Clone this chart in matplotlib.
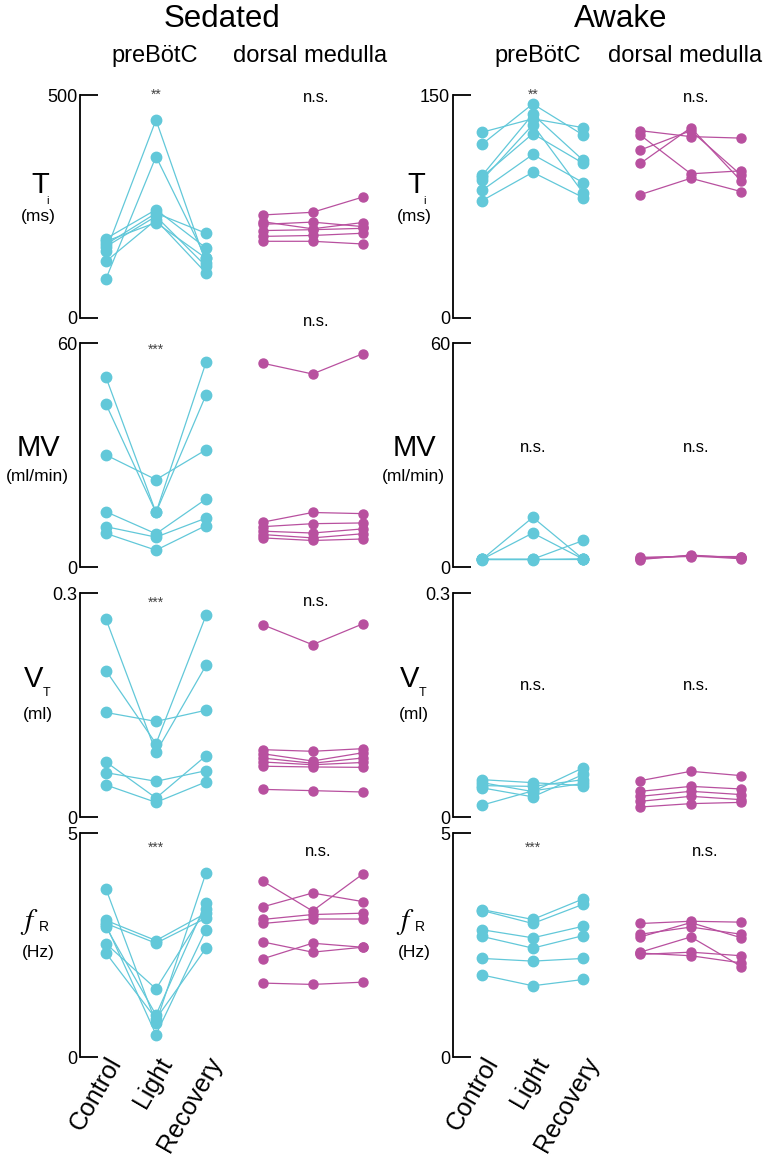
import matplotlib
matplotlib.use("Agg")
import matplotlib.pyplot as plt
import numpy as np

plt.rcParams['font.family'] = ['Liberation Sans', 'DejaVu Sans']

conditions = ["Control", "Light", "Recovery"]
states = ["Sedated", "Awake"]
regions = ["preBötC", "dorsal medulla"]
y_max_sed = [500, 60, 0.3, 5]
y_max_awk = [150, 60, 0.3, 5]
y_max_labels_sed = ["500", "60", "0.3", "5"]
y_max_labels_awk = ["150", "60", "0.3", "5"]

# ---------------- Sedated ----------------
sed_ti_pre = [[150, 444, 123], [88, 362, 134], [178, 243, 157], [165, 235, 190],
              [160, 228, 116], [127, 220, 101], [172, 214, 134]]
sed_ti_dm = [[231, 237, 271], [216, 200, 214], [210, 215, 205], [196, 198, 201],
             [183, 185, 190], [172, 172, 166]]
sed_mv_pre = [[50.8, 14.6, 46.1], [43.6, 14.6, 54.8], [30.0, 23.4, 31.4],
              [14.8, 8.9, 18.2], [10.8, 8.0, 13.1], [9.0, 4.5, 11.1]]
sed_mv_dm = [[54.6, 51.7, 57.1], [12.0, 14.6, 14.3], [10.8, 11.6, 11.8],
             [9.6, 9.1, 10.2], [8.7, 7.8, 8.9], [7.8, 7.1, 7.5]]
sed_vt_pre = [[0.265, 0.0866, 0.203], [0.196, 0.0982, 0.270], [0.140, 0.128, 0.143],
              [0.0737, 0.0254, 0.082], [0.0594, 0.0478, 0.062], [0.0429, 0.0196, 0.047]]
sed_vt_dm = [[0.2576, 0.2308, 0.2585], [0.0902, 0.088, 0.0915], [0.0848, 0.075, 0.086],
             [0.079, 0.072, 0.079], [0.0737, 0.070, 0.073], [0.068, 0.067, 0.0665],
             [0.037, 0.0353, 0.0335]]
sed_fr_pre = [[3.75, 0.76, 4.11], [3.05, 2.60, 3.21], [2.98, 2.54, 3.10],
              [2.90, 0.94, 3.44], [2.53, 1.52, 3.30], [2.32, 0.85, 2.43],
              [2.95, 0.50, 2.84]]
sed_fr_dm = [[3.93, 3.26, 4.08], [3.35, 3.66, 3.47], [3.07, 3.18, 3.21],
             [2.98, 3.08, 3.08], [2.57, 2.34, 2.45], [2.19, 2.54, 2.45],
             [1.65, 1.62, 1.67]]

# ---------------- Awake ----------------
awk_ti_pre = [[125, 134, 128], [117, 144, 123], [96, 137, 106], [93, 130, 84],
              [95, 124, 104], [86, 110, 91], [79, 98, 81]]
awk_ti_dm = [[126, 122, 121], [123, 97, 99], [113, 126, 96], [104, 128, 92],
             [83, 94, 85]]
awk_mv_pre = [[2.1, 13.3, 2.1], [2.1, 9.1, 2.1], [2.1, 2.1, 7.1],
              [2.1, 2.1, 2.1], [2.0, 2.0, 2.2]]
awk_mv_dm = [[2.4, 3.0, 2.6], [2.0, 3.2, 2.4], [2.6, 2.8, 2.8], [2.2, 3.0, 2.2]]
awk_vt_pre = [[0.050, 0.046, 0.042], [0.046, 0.034, 0.066], [0.042, 0.041, 0.050],
              [0.039, 0.027, 0.057], [0.016, 0.035, 0.045]]
awk_vt_dm = [[0.0487, 0.0612, 0.0554], [0.0344, 0.041, 0.0375], [0.0277, 0.0344, 0.030],
             [0.021, 0.0277, 0.0232], [0.0134, 0.0179, 0.0196]]
awk_fr_pre = [[3.29, 3.07, 3.53], [3.27, 2.98, 3.41], [2.84, 2.66, 2.92],
              [2.69, 2.43, 2.71], [2.20, 2.14, 2.20], [1.83, 1.59, 1.73]]
awk_fr_dm = [[2.98, 3.03, 3.01], [2.74, 2.90, 2.74], [2.68, 3.00, 2.66],
             [2.34, 2.68, 2.02], [2.29, 2.34, 2.26], [2.32, 2.26, 2.10]]

sig_sed_pre = ["**", "***", "***", "***"]
sig_sed_dm = ["n.s.", "n.s.", "n.s.", "n.s."]
sig_awk_pre = ["**", "n.s.", "n.s.", "***"]
sig_awk_dm = ["n.s.", "n.s.", "n.s.", "n.s."]

data = {
    (0, 0): (sed_ti_pre, sed_ti_dm), (1, 0): (sed_mv_pre, sed_mv_dm),
    (2, 0): (sed_vt_pre, sed_vt_dm), (3, 0): (sed_fr_pre, sed_fr_dm),
    (0, 1): (awk_ti_pre, awk_ti_dm), (1, 1): (awk_mv_pre, awk_mv_dm),
    (2, 1): (awk_vt_pre, awk_vt_dm), (3, 1): (awk_fr_pre, awk_fr_dm),
}
y_max = [y_max_sed, y_max_awk]
y_max_labels = [y_max_labels_sed, y_max_labels_awk]

CYAN = "#62C8D9"
MAG = "#B8509F"

W, H = 766, 1160
fig = plt.figure(figsize=(W / 100, H / 100), dpi=100)

def fx(x):
    return x / W

def fy(y):
    return 1 - y / H

row_top = [95, 343, 593, 833]
row_bot = [318, 567, 817, 1057]
col_spine = [80, 453]
col_xl = [-0.52, -0.58]
col_scale = [50.0, 50.5]
x_right = 5.6
x_pre = np.array([0, 1, 2])
x_dm = x_pre + 3.13

sig_y = {
    (0, 0): (95, 97), (1, 0): (350, 321), (2, 0): (603, 602), (3, 0): (848, 852),
    (0, 1): (95, 98), (1, 1): (447, 447), (2, 1): (685, 685), (3, 1): (848, 852),
}
sigs = [(sig_sed_pre, sig_sed_dm), (sig_awk_pre, sig_awk_dm)]

for c in range(2):
    for r in range(4):
        left = col_spine[c]
        width = (x_right - col_xl[c]) * col_scale[c]
        ax = fig.add_axes([fx(left), fy(row_bot[r]), width / W,
                           (row_bot[r] - row_top[r]) / H])
        ax.set_xlim(col_xl[c], x_right)
        ax.set_ylim(0, y_max[c][r])
        for s in ["top", "right", "bottom"]:
            ax.spines[s].set_visible(False)
        ax.spines["left"].set_linewidth(1.3)
        ax.set_yticks([0, y_max[c][r]])
        ax.set_yticklabels(["0", y_max_labels[c][r]])
        ax.tick_params(axis="y", direction="in", length=13, width=1.3,
                       pad=2, labelsize=13)
        ax.patch.set_visible(False)
        pre, dm = data[(r, c)]
        for vals in pre:
            ax.plot(x_pre, vals, color=CYAN, lw=0.9, marker="o", ms=7.5,
                    mec=CYAN, mfc=CYAN, clip_on=False)
        for vals in dm:
            ax.plot(x_dm, vals, color=MAG, lw=0.9, marker="o", ms=6.5,
                    mec=MAG, mfc=MAG, clip_on=False)
        if r == 3:
            ax.set_xticks(x_pre)
            ax.set_xticklabels(conditions, rotation=60, ha="right",
                               rotation_mode="anchor", fontsize=18)
            ax.tick_params(axis="x", length=0, pad=-3)
        else:
            ax.set_xticks([])
        sp, sd = sigs[c][0][r], sigs[c][1][r]
        ys_pre, ys_dm = sig_y[(r, c)]
        xs_pre = col_spine[c] + (1 - col_xl[c]) * col_scale[c]
        xs_dm = [316, 696][c] if r != 3 else [318, 705][c]
        if sp.startswith("*"):
            fig.text(fx(xs_pre), fy(ys_pre), sp, ha="center", va="center",
                     fontsize=10, color="#444444")
        else:
            fig.text(fx(xs_pre), fy(ys_pre), sp, ha="center", va="center",
                     fontsize=12)
        fig.text(fx(xs_dm), fy(ys_dm), sd, ha="center", va="center", fontsize=12)

# headers
fig.text(fx(222), fy(19), "Sedated", ha="center", va="center", fontsize=22.5)
fig.text(fx(621), fy(19), "Awake", ha="center", va="center", fontsize=22.5)
for cx, t in [(155, regions[0]), (310, regions[1]), (538, regions[0]), (685, regions[1])]:
    fig.text(fx(cx), fy(56), t, ha="center", va="center", fontsize=17)

# y-axis labels
lab_x = [0, 376]
for c in range(2):
    o = lab_x[c]
    fig.text(fx(o + 40), fy(185), "T", ha="center", va="center", fontsize=21)
    fig.text(fx(o + 48), fy(201), "i", ha="center", va="center", fontsize=8)
    fig.text(fx(o + 38), fy(217), "(ms)", ha="center", va="center", fontsize=12.5)
    fig.text(fx(o + 38), fy(448), "MV", ha="center", va="center", fontsize=21)
    fig.text(fx(o + 37), fy(477), "(ml/min)", ha="center", va="center", fontsize=12.5)
    fig.text(fx(o + 34), fy(679), "V", ha="center", va="center", fontsize=21)
    fig.text(fx(o + 47), fy(693), "T", ha="center", va="center", fontsize=9)
    fig.text(fx(o + 38), fy(714), "(ml)", ha="center", va="center", fontsize=12.5)
    fig.text(fx(o + 29), fy(922), "$\\mathit{f}$", ha="center", va="center",
             fontsize=21, math_fontfamily="stix")
    fig.text(fx(o + 44), fy(927), "R", ha="center", va="center", fontsize=10)
    fig.text(fx(o + 38), fy(953), "(Hz)", ha="center", va="center", fontsize=12.5)

fig.savefig("out.png", dpi=100)
